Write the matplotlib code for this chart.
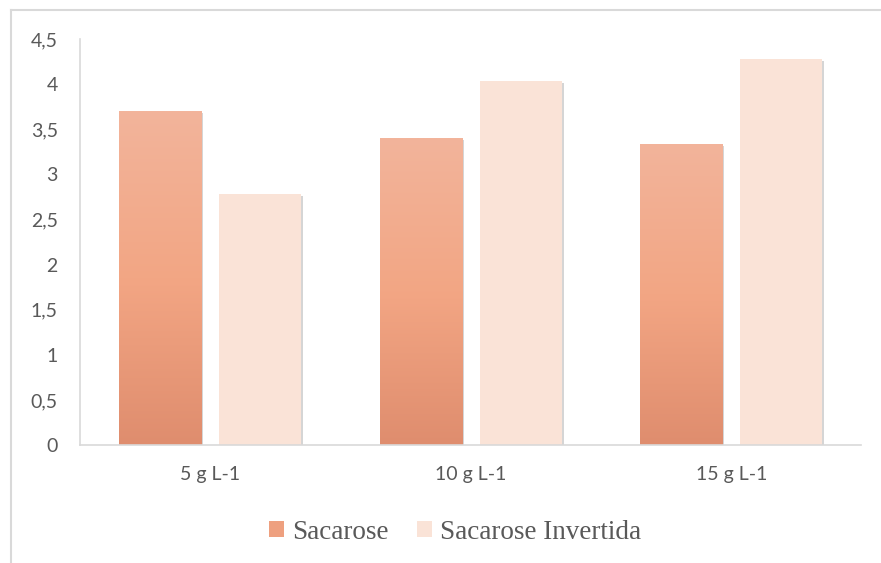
import numpy as np
import matplotlib
matplotlib.use('Agg')
import matplotlib.pyplot as plt
from matplotlib.lines import Line2D
from matplotlib.patches import Patch
import matplotlib.patheffects as pe
from matplotlib.colors import LinearSegmentedColormap

# data
categories = ['5 g L-1', '10 g L-1', '15 g L-1']
sacarose = [3.70, 3.40, 3.34]
sacarose_invertida = [2.78, 4.04, 4.28]
yticks = [0, 0.5, 1, 1.5, 2, 2.5, 3, 3.5, 4, 4.5]
ytick_labels = ['0', '0,5', '1', '1,5', '2', '2,5', '3', '3,5', '4', '4,5']

fig = plt.figure(figsize=(8.81, 5.63), dpi=100)
ax = fig.add_axes([0.0908, 0.2096, 0.887, 0.7211])

x = np.arange(len(categories))
w = 0.315
gap = 0.07
grad = LinearSegmentedColormap.from_list('sac', ['#df8d6e', '#f3a684', '#f2b49b'])
shadow = [pe.SimplePatchShadow(offset=(1.5, -1.5), shadow_rgbFace='#888888', alpha=0.35), pe.Normal()]

bars1 = ax.bar(x - (w + gap) / 2, sacarose, w, color='none', edgecolor='none', zorder=2)
bars2 = ax.bar(x + (w + gap) / 2, sacarose_invertida, w, color='#fae3d7', edgecolor='none',
               zorder=2, path_effects=shadow)

# gradient fill for Sacarose bars
for b in bars1:
    x0, y0 = b.get_x(), b.get_y()
    bw, bh = b.get_width(), b.get_height()
    bg = plt.Rectangle((x0, y0), bw, bh, facecolor='#eea07f', edgecolor='none',
                       zorder=1.9, path_effects=shadow)
    ax.add_patch(bg)
    img = ax.imshow(np.linspace(0, 1, 256).reshape(-1, 1), cmap=grad, origin='lower',
                    extent=(x0, x0 + bw, y0, y0 + bh), aspect='auto', zorder=2)
    img.set_clip_path(b)

ax.set_xlim(-0.5, 2.5)
ax.set_ylim(0, 4.5)
ax.set_xticks(x)
ax.set_xticklabels(categories, fontsize=14, color='#595959', family='Lato')
ax.set_yticks(yticks)
ax.set_yticklabels(ytick_labels, fontsize=14, color='#595959', family='Lato')
ax.tick_params(length=0)
ax.tick_params(axis='x', pad=15)
ax.tick_params(axis='y', pad=16)
for s in ['top', 'right']:
    ax.spines[s].set_visible(False)
for s in ['left', 'bottom']:
    ax.spines[s].set_color('#d9d9d9')
    ax.spines[s].set_linewidth(1.2)

handles = [Patch(facecolor='#eea07f', edgecolor='none'),
           Patch(facecolor='#fae3d7', edgecolor='none')]
fig.legend(handles, ['Sacarose', 'Sacarose Invertida'], loc='center',
           bbox_to_anchor=(0.517, 0.055), ncol=2, frameon=False,
           prop={'family': 'Liberation Serif', 'size': 19.5}, labelcolor='#595959',
           handlelength=0.55, handleheight=0.55, handletextpad=0.3, columnspacing=1.05)

# outer chart-area border (cropped at right and bottom)
fig.add_artist(Line2D([11 / 881, 1], [1 - 10 / 563] * 2, color='#d9d9d9', lw=1.5))
fig.add_artist(Line2D([11 / 881] * 2, [0, 1 - 10 / 563], color='#d9d9d9', lw=1.5))

fig.savefig('out.png', dpi=100)
